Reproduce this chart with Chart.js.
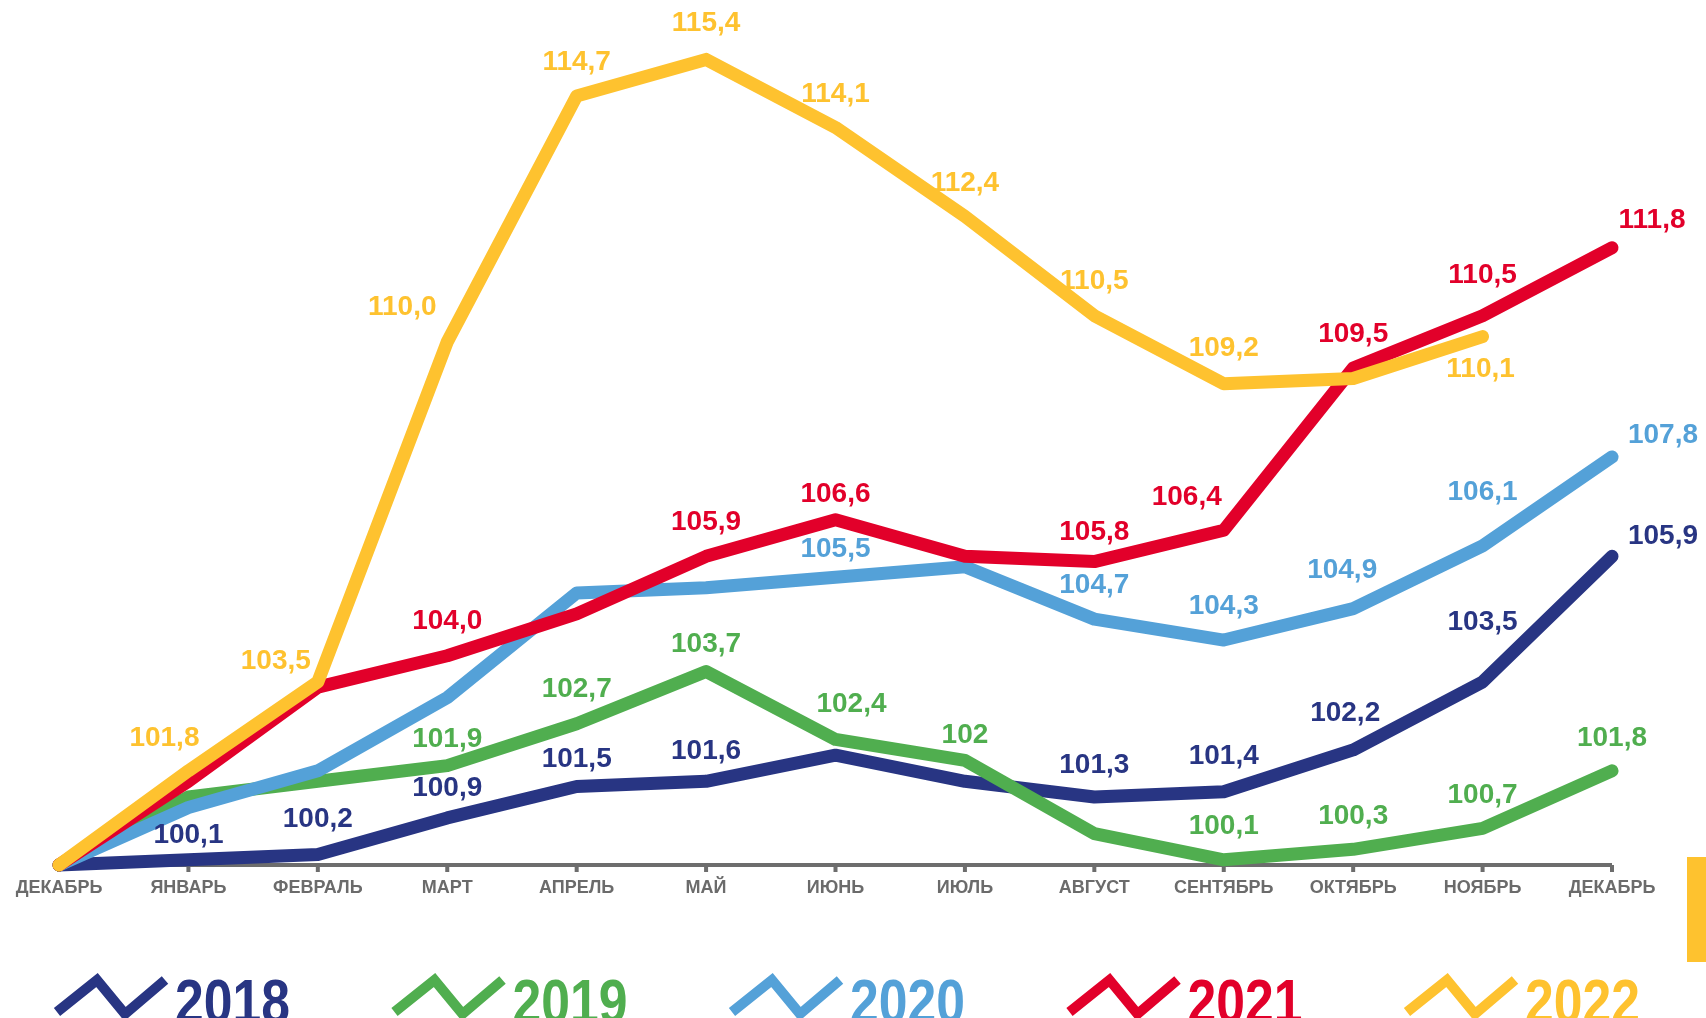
<!DOCTYPE html>
<html lang="ru">
<head>
<meta charset="utf-8">
<title>Индекс цен</title>
<script src="https://cdn.jsdelivr.net/npm/chart.js@4.4.1/dist/chart.umd.min.js"></script>
<style>
  html, body { margin: 0; padding: 0; background: #fff; overflow: hidden; }
  #wrap { width: 1706px; height: 1018px; position: relative; }
</style>
</head>
<body>
<div id="wrap"><canvas id="priceChart" width="1706" height="1018"></canvas></div>
<script>
// ================= DATA =================
const months = ["ДЕКАБРЬ", "ЯНВАРЬ", "ФЕВРАЛЬ", "МАРТ", "АПРЕЛЬ", "МАЙ", "ИЮНЬ",
  "ИЮЛЬ", "АВГУСТ", "СЕНТЯБРЬ", "ОКТЯБРЬ", "НОЯБРЬ", "ДЕКАБРЬ"];

const years = ["2018", "2019", "2020", "2021", "2022"];

const v2018 = [100, 100.1, 100.2, 100.9, 101.5, 101.6, 102.1, 101.6, 101.3, 101.4, 102.2, 103.5, 105.9];
const v2019 = [100, 101.3, 101.6, 101.9, 102.7, 103.7, 102.4, 102.0, 100.6, 100.1, 100.3, 100.7, 101.8];
const v2020 = [100, 101.1, 101.8, 103.2, 105.2, 105.3, 105.5, 105.7, 104.7, 104.3, 104.9, 106.1, 107.8];
const v2021 = [100, 101.6, 103.4, 104.0, 104.8, 105.9, 106.6, 105.9, 105.8, 106.4, 109.5, 110.5, 111.8];
const v2022 = [100, 101.8, 103.5, 110.0, 114.7, 115.4, 114.1, 112.4, 110.5, 109.2, 109.3, 110.1, null];

// value labels shown on the chart (null = no label)
const t2018 = [null, "100,1", "100,2", "100,9", "101,5", "101,6", null, null, "101,3", "101,4", "102,2", "103,5", "105,9"];
const t2019 = [null, null, null, "101,9", "102,7", "103,7", "102,4", "102", null, "100,1", "100,3", "100,7", "101,8"];
const t2020 = [null, null, null, null, null, null, "105,5", null, "104,7", "104,3", "104,9", "106,1", "107,8"];
const t2021 = [null, null, null, "104,0", null, "105,9", "106,6", null, "105,8", "106,4", "109,5", "110,5", "111,8"];
const t2022 = [null, "101,8", "103,5", "110,0", "114,7", "115,4", "114,1", "112,4", "110,5", "109,2", null, "110,1", null];

const yMin = 100;
const yMax = 116;

// ================= STYLE =================
const colors = ["#283583", "#50ae4f", "#54a1d8", "#e2002a", "#fec22f"];
const axisGray = "#6d6d6d";

// label nudges [dx, dy] from the point, default is straight above
const defaultNudge = [0, -33];
const nudges = {
  0: { 1: [0, -24], 2: [0, -35], 3: [0, -30], 4: [0, -27], 5: [0, -30], 8: [0, -32], 9: [0, -35], 10: [-8, -37], 11: [0, -60], 12: [51, -20] },
  1: { 3: [0, -26], 4: [0, -34], 5: [0, -27], 6: [16, -35], 7: [0, -25] },
  2: { 6: [0, -28], 8: [0, -34], 9: [0, -34], 10: [-11, -38], 11: [0, -54], 12: [51, -22] },
  3: { 3: [0, -34], 5: [0, -34], 6: [0, -25], 8: [0, -29], 9: [-37, -33], 10: [0, -34], 11: [0, -40], 12: [40, -27] },
  4: { 1: [-24, -33], 2: [-42, -21], 3: [-45, -35], 4: [0, -34], 5: [0, -36], 8: [0, -34], 9: [0, -35], 11: [-2, 33] }
};

const seriesValues = [v2018, v2019, v2020, v2021, v2022];
const seriesTexts = [t2018, t2019, t2020, t2021, t2022];

// ================= PLUGINS =================

// x axis: gray line, small ticks, month names
const axisPlugin = {
  id: "axisPlugin",
  beforeDatasetsDraw(chart) {
    const { ctx, scales } = chart;
    const x = scales.x;
    const y0 = scales.y.getPixelForValue(yMin);
    const first = x.getPixelForTick(0);
    const last = x.getPixelForTick(months.length - 1);

    ctx.save();
    ctx.strokeStyle = axisGray;
    ctx.lineWidth = 4;
    ctx.beginPath();
    ctx.moveTo(first, y0);
    ctx.lineTo(last, y0);
    ctx.stroke();

    ctx.fillStyle = axisGray;
    months.forEach((m, i) => {
      const px = x.getPixelForTick(i);
      ctx.fillRect(px - 2, y0, 4, 7);
    });

    ctx.font = "bold 18px 'Liberation Sans', Arial, sans-serif";
    ctx.textAlign = "center";
    ctx.textBaseline = "middle";
    ctx.fillStyle = "#6b6b6b";
    months.forEach((m, i) => {
      ctx.fillText(m, x.getPixelForTick(i), y0 + 23);
    });
    ctx.restore();
  }
};

// value labels above points
const valueLabels = {
  id: "valueLabels",
  afterDatasetsDraw(chart) {
    const { ctx } = chart;
    ctx.save();
    ctx.font = "bold 28px 'Liberation Sans', Arial, sans-serif";
    ctx.textAlign = "center";
    ctx.textBaseline = "middle";
    seriesTexts.forEach((texts, s) => {
      const meta = chart.getDatasetMeta(s);
      ctx.fillStyle = colors[s];
      texts.forEach((txt, i) => {
        if (!txt) return;
        const pt = meta.data[i];
        const n = (nudges[s] && nudges[s][i]) || defaultNudge;
        ctx.fillText(txt, pt.x + n[0], pt.y + n[1]);
      });
    });
    ctx.restore();
  }
};

// legend with zigzag icons + yellow side block
const zigLegend = {
  id: "zigLegend",
  afterDraw(chart) {
    const { ctx } = chart;
    ctx.save();

    ctx.fillStyle = colors[4];
    ctx.fillRect(1687, 857, 19, 105);

    years.forEach((yr, i) => {
      const x0 = 53 + i * 337.5;
      ctx.strokeStyle = colors[i];
      ctx.lineWidth = 10;
      ctx.lineJoin = "miter";
      ctx.lineCap = "butt";
      ctx.beginPath();
      ctx.moveTo(x0 + 4, 1012);
      ctx.lineTo(x0 + 44, 980);
      ctx.lineTo(x0 + 72, 1014);
      ctx.lineTo(x0 + 112, 980);
      ctx.stroke();

      ctx.fillStyle = colors[i];
      ctx.font = "bold 63px 'Liberation Sans', Arial, sans-serif";
      ctx.textAlign = "left";
      ctx.textBaseline = "alphabetic";
      ctx.save();
      ctx.translate(x0 + 122, 1023);
      ctx.scale(0.82, 1);
      ctx.fillText(yr, 0, 0);
      ctx.restore();
    });
    ctx.restore();
  }
};

// ================= CHART =================

const datasets = seriesValues.map((vals, i) => ({
  label: years[i],
  data: vals,
  borderColor: colors[i],
  backgroundColor: colors[i],
  borderWidth: 13,
  borderCapStyle: "round",
  borderJoinStyle: "round",
  pointRadius: 0,
  tension: 0,
  fill: false,
  clip: false,
  order: years.length - i
}));

new Chart(document.getElementById("priceChart"), {
  type: "line",
  data: { labels: months, datasets },
  options: {
    responsive: false,
    animation: false,
    layout: { padding: { left: 59, right: 94, top: 28, bottom: 153 } },
    plugins: {
      legend: { display: false },
      tooltip: { enabled: false }
    },
    scales: {
      x: { display: false, offset: false },
      y: { display: false, min: yMin, max: yMax }
    }
  },
  plugins: [axisPlugin, valueLabels, zigLegend]
});
</script>
</body>
</html>
